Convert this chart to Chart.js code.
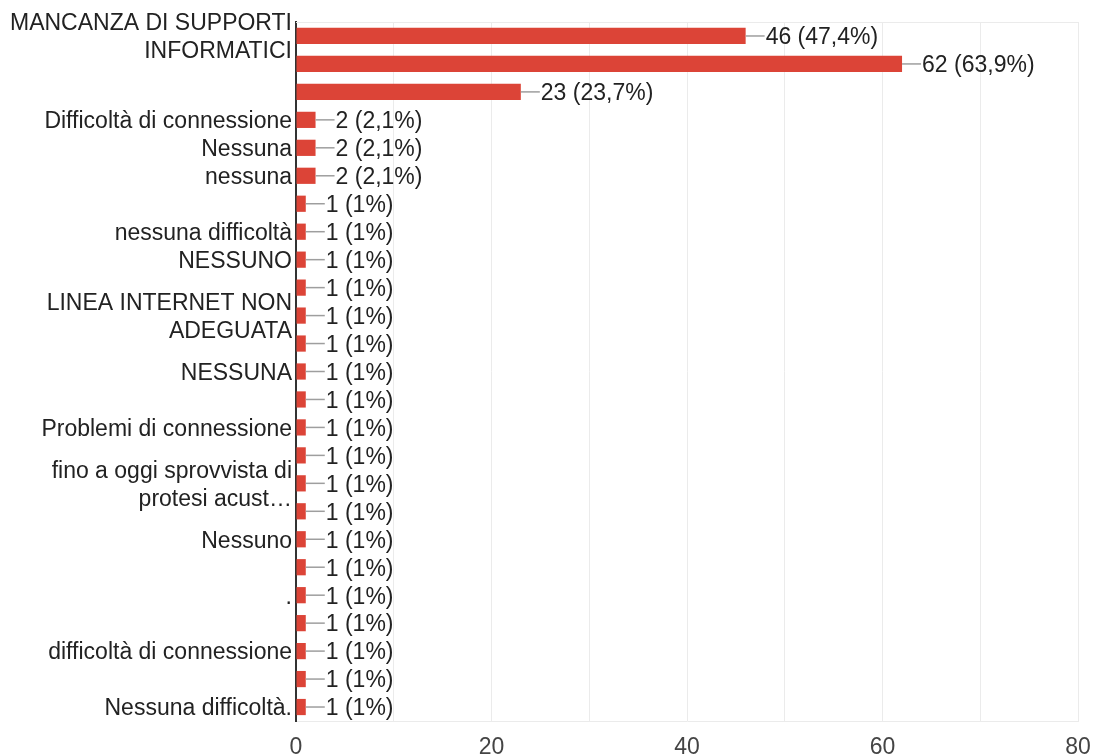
<!DOCTYPE html>
<html>
<head>
<meta charset="utf-8">
<script src="https://cdn.jsdelivr.net/npm/chart.js@4"></script>
<style>
  html, body { margin: 0; padding: 0; background: #fff; }
  #wrap { width: 1093px; height: 756px; }
</style>
</head>
<body>
<div id="wrap"><canvas id="myChart"></canvas></div>
<script>
// risposte (etichette non mostrate nel grafico originale lasciate vuote)
var risposte = [
  ["MANCANZA DI SUPPORTI", "INFORMATICI"],
  "",
  "",
  "Difficoltà di connessione",
  "Nessuna",
  "nessuna",
  "",
  "nessuna difficoltà",
  "NESSUNO",
  "",
  ["LINEA INTERNET NON", "ADEGUATA"],
  "",
  "NESSUNA",
  "",
  "Problemi di connessione",
  "",
  ["fino a oggi sprovvista di", "protesi acust…"],
  "",
  "Nessuno",
  "",
  ".",
  "",
  "difficoltà di connessione",
  "",
  "Nessuna difficoltà."
];
var conteggi = [46, 62, 23, 2, 2, 2, 1, 1, 1, 1, 1, 1, 1, 1, 1, 1, 1, 1, 1, 1, 1, 1, 1, 1, 1];
var totaleRisposte = 97;
var tickLabels = [0, 20, 40, 60, 80];

var FONT = '"Liberation Sans", Arial, sans-serif';

function percentuale(v) {
  var p = (v / totaleRisposte * 100).toFixed(1).replace('.', ',');
  if (p.slice(-2) == ',0') p = p.slice(0, -2);
  return v + ' (' + p + '%)';
}

// linea + etichetta a destra di ogni barra
var etichette = {
  id: 'etichette',
  afterDatasetsDraw: function(chart) {
    var c = chart.ctx;
    var meta = chart.getDatasetMeta(0);
    c.save();
    c.font = '23px ' + FONT;
    c.textBaseline = 'middle';
    c.textAlign = 'left';
    meta.data.forEach(function(bar, i) {
      c.strokeStyle = '#9e9e9e';
      c.lineWidth = 1.5;
      c.beginPath();
      c.moveTo(bar.x, bar.y);
      c.lineTo(bar.x + 19, bar.y);
      c.stroke();
      c.fillStyle = '#222';
      c.fillText(percentuale(conteggi[i]), bar.x + 20, bar.y + 2);
    });
    c.restore();
  }
};

// linea grigia in alto
var cornice = {
  id: 'cornice',
  beforeDatasetsDraw: function(chart) {
    var a = chart.chartArea;
    var c = chart.ctx;
    c.save();
    c.strokeStyle = '#ebebeb';
    c.lineWidth = 1;
    c.beginPath();
    c.moveTo(a.left, a.top + 0.5);
    c.lineTo(a.right, a.top + 0.5);
    c.stroke();
    c.restore();
  }
};

var ctx = document.getElementById('myChart');
new Chart(ctx, {
  type: 'bar',
  data: {
    labels: risposte,
    datasets: [{
      data: conteggi,
      backgroundColor: '#dc4437',
      barPercentage: 0.58,
      categoryPercentage: 1
    }]
  },
  options: {
    indexAxis: 'y',
    responsive: true,
    maintainAspectRatio: false,
    animation: false,
    layout: { padding: { top: 22, right: 15, left: 0, bottom: 0 } },
    plugins: {
      legend: { display: false },
      tooltip: { enabled: false }
    },
    scales: {
      x: {
        min: 0,
        max: 80,
        grid: { color: '#ebebeb', drawTicks: false },
        border: { color: '#ebebeb' },
        ticks: {
          stepSize: 10,
          padding: 13,
          color: '#444',
          font: { family: FONT, size: 23 },
          callback: function(v) { return tickLabels.indexOf(v) >= 0 ? v : ''; }
        },
        afterFit: function(s) { s.height = 35; s.paddingLeft = 0; s.paddingRight = 0; }
      },
      y: {
        grid: { display: false, drawTicks: false },
        border: { color: '#333', width: 2 },
        ticks: {
          autoSkip: false,
          padding: 4,
          labelOffset: 2,
          color: '#222',
          font: { family: FONT, size: 23, lineHeight: 28 / 23 }
        },
        afterFit: function(s) { s.width = 296; s.paddingTop = 0; s.paddingBottom = 0; }
      }
    }
  },
  plugins: [cornice, etichette]
});
</script>
</body>
</html>
